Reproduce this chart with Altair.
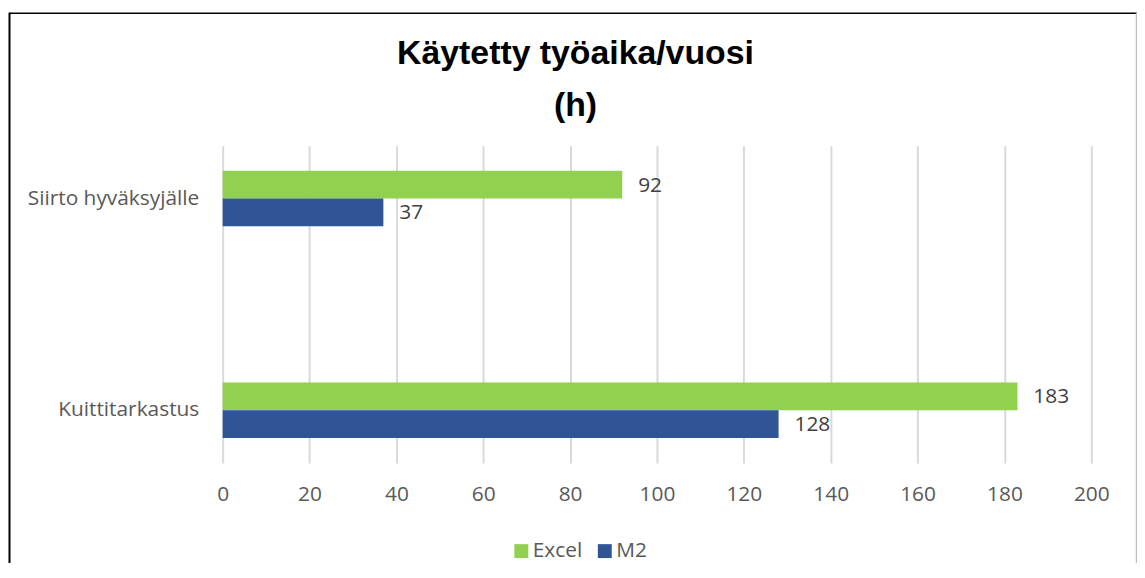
import altair as alt
import pandas as pd

categories = ["Siirto hyväksyjälle", "Kuittitarkastus"]
series = ["Excel", "M2"]
excel_values = [92, 183]
m2_values = [37, 128]
tick_values = [0, 20, 40, 60, 80, 100, 120, 140, 160, 180, 200]
colors = ["#92D050", "#2F5597"]

rows = []
for c, e, m in zip(categories, excel_values, m2_values):
    rows.append({"category": c, "series": "Excel", "value": e})
    rows.append({"category": c, "series": "M2", "value": m})
df = pd.DataFrame(rows)

FONT = "Open Sans"

x_enc = alt.X(
    "value:Q",
    scale=alt.Scale(domain=[0, 200], nice=False),
    axis=alt.Axis(
        values=tick_values, grid=True, gridColor="#D9D9D9", gridWidth=2,
        ticks=False, domain=False, labelFont=FONT, labelFontSize=21,
        labelColor="#595959", labelPadding=21, labelFlush=False, title=None,
    ),
)
y_enc = alt.Y(
    "category:N", sort=categories,
    scale=alt.Scale(paddingInner=0.7371, paddingOuter=0.1174),
    axis=alt.Axis(
        title=None, ticks=False, domain=False, grid=False, labelFont=FONT,
        labelFontSize=21, labelColor="#595959", labelPadding=24,
    ),
)
yoff = alt.YOffset("series:N", sort=series,
                   scale=alt.Scale(domain=series, paddingInner=0, paddingOuter=0))

bars = alt.Chart(df).mark_bar().encode(
    x=x_enc, y=y_enc, yOffset=yoff,
    color=alt.Color(
        "series:N", sort=series,
        scale=alt.Scale(domain=series, range=colors),
        legend=alt.Legend(
            title=None, orient="none", legendX=290, legendY=397,
            direction="horizontal", symbolType="square", symbolSize=196,
            symbolStrokeWidth=0, labelFont=FONT, labelFontSize=21,
            labelColor="#595959", columnPadding=12, labelOffset=1,
        ),
    ),
)

labels = alt.Chart(df).mark_text(
    align="left", baseline="middle", dx=16, dy=1, font=FONT, fontSize=21,
    color="#404040",
).encode(x=x_enc, y=y_enc, yOffset=yoff, text=alt.Text("value:Q"))

frame_data = alt.Data(values=[{"k": 1}])
top_line = alt.Chart(frame_data).mark_rule(color="black", strokeWidth=1.5).encode(
    x=alt.value(-215), x2=alt.value(920), y=alt.value(-133.5))
left_line = alt.Chart(frame_data).mark_rule(color="black", strokeWidth=2).encode(
    x=alt.value(-214.5), y=alt.value(-134), y2=alt.value(430))
right_line = alt.Chart(frame_data).mark_rule(color="#BFBFBF", strokeWidth=1.5).encode(
    x=alt.value(919.5), y=alt.value(-134), y2=alt.value(430))

chart = alt.layer(bars, labels, top_line, left_line, right_line).properties(
    width=874, height=319,
    padding={"left": 216, "top": 137, "right": 46, "bottom": 99},
    autosize=alt.AutoSizeParams(type="none"),
    background="white",
    title=alt.Title(
        text=["Käytetty työaika/vuosi", "(h)"], font="Liberation Sans",
        fontSize=34, fontWeight="bold", color="black", anchor="middle",
        dx=-82, dy=135, lineHeight=52, offset=23,
    ),
).configure_view(strokeOpacity=0, strokeWidth=0)

chart.save("out.html", embed_options={"renderer": "svg", "actions": False})
